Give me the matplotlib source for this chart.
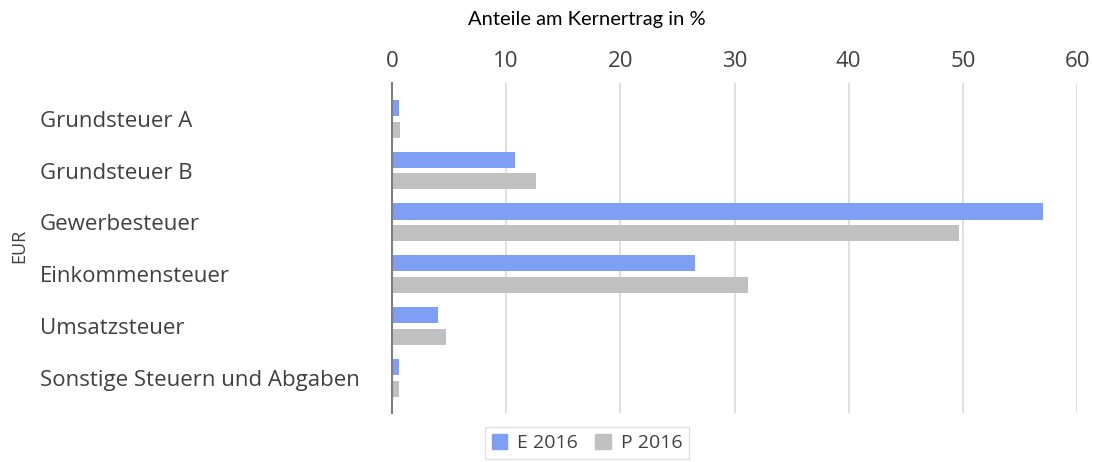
import numpy as np
import matplotlib
matplotlib.use("Agg")
import matplotlib.pyplot as plt
from matplotlib.patches import Patch

plt.rcParams['font.family'] = ['Open Sans', 'DejaVu Sans']

# Daten
kategorien = ["Grundsteuer A", "Grundsteuer B", "Gewerbesteuer",
              "Einkommensteuer", "Umsatzsteuer", "Sonstige Steuern und Abgaben"]
e_2016 = [0.6, 10.8, 57.0, 26.5, 4.0, 0.6]
p_2016 = [0.7, 12.6, 49.7, 31.2, 4.7, 0.65]
serien = ["E 2016", "P 2016"]
x_ticks = [0, 10, 20, 30, 40, 50, 60]

BLAU = "#7f9ff5"
GRAU = "#c0c0c0"
TEXT = "#404040"

fig = plt.figure(figsize=(10.93, 4.62), dpi=100)
ax = fig.add_axes([392/1093, 1 - 413/462, (1077-392)/1093, (413-83)/462])

y = np.arange(len(kategorien))
h = 0.31
ax.barh(y - 0.21, e_2016, height=h, color=BLAU, label=serien[0], zorder=3)
ax.barh(y + 0.21, p_2016, height=h, color=GRAU, label=serien[1], zorder=3)

ax.set_xlim(0, 60)
ax.set_ylim(5.68, -0.69)
ax.set_xticks(x_ticks)
ax.xaxis.tick_top()
ax.tick_params(axis='x', length=0, labelsize=16, labelcolor=TEXT, pad=8)
ax.grid(axis='x', color="#d9d9d9", linewidth=1.2, zorder=0)
ax.set_yticks(y)
ax.set_yticklabels(kategorien)
ax.tick_params(axis='y', length=0, labelsize=16, labelcolor=TEXT, pad=0)
for lbl in ax.get_yticklabels():
    lbl.set_horizontalalignment('left')
    lbl.set_x(-(392 - 40) / (1077 - 392))

for s in ['top', 'right', 'bottom']:
    ax.spines[s].set_visible(False)
ax.spines['left'].set_color("#7f7f7f")
ax.spines['left'].set_linewidth(1.5)
ax.spines['left'].set_zorder(4)

fig.text(587/1093, 1 - 19/462, "Anteile am Kernertrag in %", ha='center', va='center',
         fontsize=14.5, color="#000000", family=['Lato', 'DejaVu Sans'])
fig.text(19/1093, 1 - 246/462, "EUR", rotation=90, ha='center', va='center',
         fontsize=13, color=TEXT)

handles = [Patch(color=BLAU), Patch(color=GRAU)]
leg = fig.legend(handles, serien, loc='center', bbox_to_anchor=(587/1093, 1 - 443/462),
                 ncol=2, frameon=True, fontsize=14, handlelength=0.8, handleheight=0.8,
                 handletextpad=0.5, columnspacing=0.9, fancybox=False, borderpad=0.35)
leg.get_frame().set_edgecolor("#d9d9d9")
for t in leg.get_texts():
    t.set_color(TEXT)

fig.savefig("out.png", dpi=100)
